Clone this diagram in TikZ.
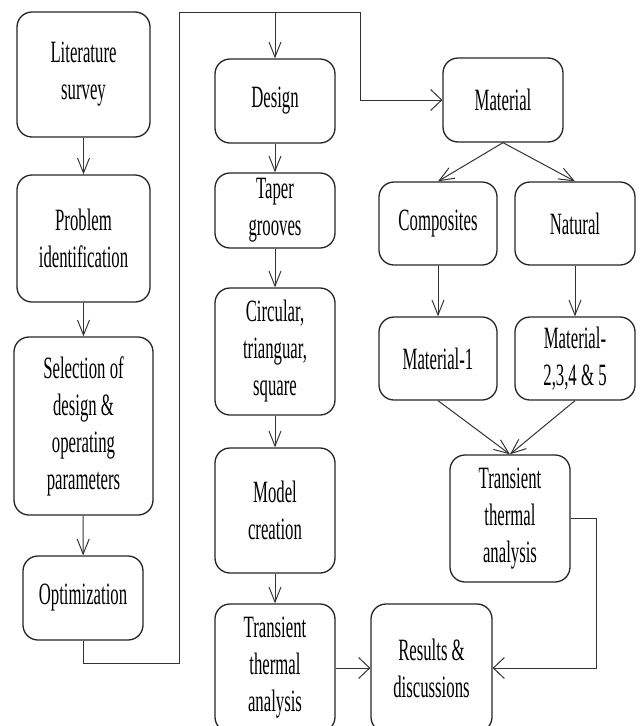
\documentclass[tikz,border=0pt]{standalone}
\usepackage{fontspec}
\setmainfont[FakeStretch=0.54]{Liberation Serif}
\usetikzlibrary{arrows.meta}
\begin{document}
\begin{tikzpicture}[x=1pt,y=-1pt,
  box/.style={draw=black!85, line width=1.3pt, rounded corners=15pt, fill=white,
    inner sep=0pt, align=center, font=\fontsize{31}{37}\selectfont},
  flow/.style={draw=black!80, line width=1pt, -{Straight Barb[length=15pt,width=12pt,line width=1pt]}},
  flowh/.style={draw=black!80, line width=1pt, -{Straight Barb[length=11pt,width=21pt,line width=1pt]}},
  link/.style={draw=black!80, line width=1pt}]
\useasboundingbox (0,0) rectangle (643,726);

% left column
\node[box, minimum width=133pt, minimum height=125pt] (lit) at (83.5,74.5) {Literature\\survey};
\node[box, minimum width=133pt, minimum height=127pt] (prob) at (83.5,238.5) {Problem\\identification};
\node[box, minimum width=139pt, minimum height=178pt] (sel) at (83.5,426) {Selection of\\design \&\\operating\\parameters};
\node[box, minimum width=120pt, minimum height=84pt] (opt) at (83,598) {Optimization};

% middle column
\node[box, minimum width=120pt, minimum height=84pt] (design) at (275,101) {Design};
\node[box, minimum width=120pt, minimum height=75pt] (taper) at (275,210.5) {Taper\\grooves};
\node[box, minimum width=120pt, minimum height=127pt] (circ) at (275,351.5) {Circular,\\trianguar,\\square};
\node[box, minimum width=120pt, minimum height=125pt] (model) at (275,510.5) {Model\\creation};
\node[box, minimum width=120pt, minimum height=128pt] (trans1) at (275,668) {Transient\\thermal\\analysis};

% right column
\node[box, minimum width=120pt, minimum height=84pt] (material) at (503,100) {Material};
\node[box, minimum width=118pt, minimum height=83pt] (comp) at (438,223.5) {Composites};
\node[box, minimum width=120pt, minimum height=83pt] (nat) at (575,223.5) {Natural};
\node[box, minimum width=118pt, minimum height=83pt] (mat1) at (438,358.5) {Material-1};
\node[box, minimum width=120pt, minimum height=83pt] (mat2) at (575,358.5) {Material-\\2,3,4 \& 5};
\node[box, minimum width=120pt, minimum height=127pt] (trans2) at (510,518.5) {Transient\\thermal\\analysis};
\node[box, minimum width=121pt, minimum height=128pt] (results) at (431.5,668) {Results \&\\discussions};

% routing points
\coordinate (j1) at (179,663);
\coordinate (j2) at (179,12);
\coordinate (jd) at (275,12);
\coordinate (j3) at (360,12);
\coordinate (j4) at (596,600);

% left column flow
\draw[flow] (lit) -- (prob);
\draw[flow] (prob) -- (sel);
\draw[flow] (sel) -- (opt);

% optimization feeds design and material
\draw[link] (opt.south) |- (j1) -- (j2) -- (j3);
\draw[flowh] (j3) |- (material.west);
\draw[flow] (jd) -- (design.north);

% middle column flow
\draw[flow] (design) -- (taper);
\draw[flow] (taper) -- (circ);
\draw[flow] (circ) -- (model);
\draw[flow] (model) -- (trans1);
\draw[flowh] (trans1.east) -- (results.west);

% material branch
\draw[flow] (material.south) -- (comp.north);
\draw[flow] (material.south) -- (nat.north);
\draw[flow] (comp) -- (mat1);
\draw[flow] (nat) -- (mat2);
\draw[flow] (mat1.south) -- (trans2.north);
\draw[flow] (mat2.south) -- (trans2.north);
\draw[link] (trans2.east) -| (j4);
\draw[flowh] (j4) |- (results.east);
\end{tikzpicture}
\end{document}
